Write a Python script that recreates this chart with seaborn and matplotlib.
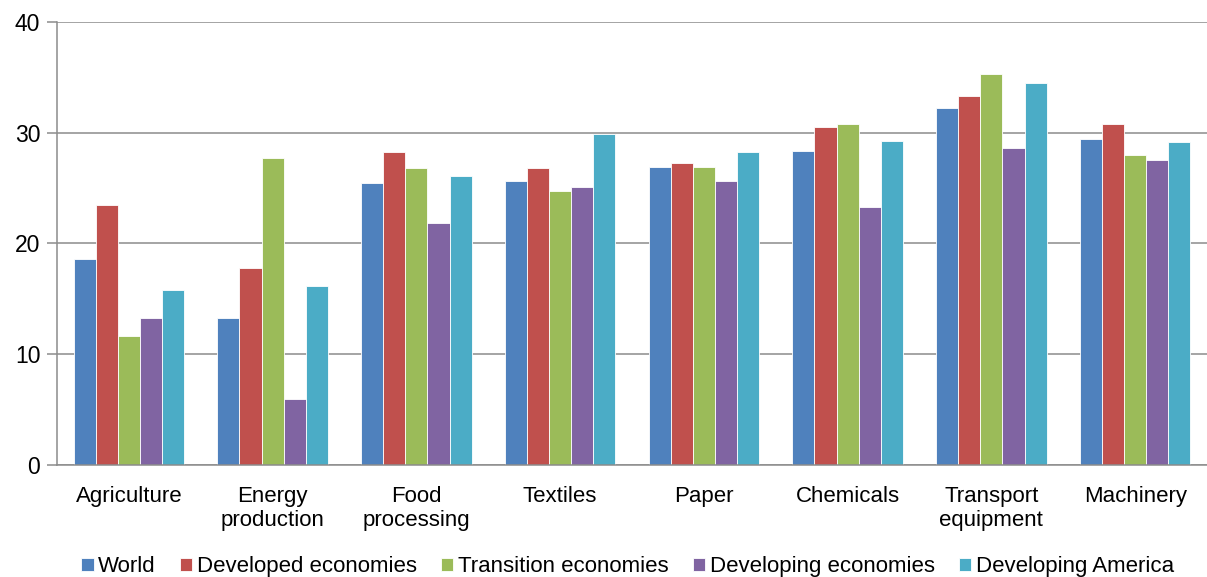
import numpy as np
import pandas as pd
import seaborn as sns
import matplotlib.pyplot as plt

# Data
categories = ["Agriculture", "Energy\nproduction", "Food\nprocessing", "Textiles",
              "Paper", "Chemicals", "Transport\nequipment", "Machinery"]
series = ["World", "Developed economies", "Transition economies",
          "Developing economies", "Developing America"]
world = [18.6, 13.3, 25.5, 25.6, 26.9, 28.35, 32.2, 29.4]
developed = [23.5, 17.8, 28.3, 26.8, 27.3, 30.5, 33.3, 30.8]
transition = [11.65, 27.7, 26.8, 24.75, 26.9, 30.8, 35.3, 28.0]
developing = [13.3, 6.0, 21.85, 25.1, 25.6, 23.3, 28.6, 27.5]
america = [15.8, 16.2, 26.1, 29.9, 28.3, 29.3, 34.5, 29.2]
colors = ["#4F81BD", "#C0504D", "#9BBB59", "#8064A2", "#4BACC6"]

rows = []
for name, vals in zip(series, [world, developed, transition, developing, america]):
    for cat, v in zip(categories, vals):
        rows.append({"category": cat, "series": name, "value": v})
df = pd.DataFrame(rows)

sns.set_style("white")
plt.rcParams["font.family"] = ["Liberation Sans", "DejaVu Sans"]
plt.rcParams["text.color"] = "black"
plt.rcParams["xtick.color"] = "black"
plt.rcParams["ytick.color"] = "black"

fig = plt.figure(figsize=(12.07, 5.77), dpi=100)
ax = fig.add_axes([57 / 1207, 1 - 465 / 577, 1 - 57 / 1207, (465 - 22) / 577])

sns.barplot(data=df, x="category", y="value", hue="series", order=categories,
            hue_order=series, palette=colors, saturation=1, width=0.77, gap=0,
            edgecolor="white", linewidth=0.6, ax=ax, legend=True)

ax.set_xlim(-0.5, 7.5)
ax.set_ylim(0, 40)
ax.set_yticks([0, 10, 20, 30, 40])
ax.yaxis.grid(True, color="#8c8c8c", linewidth=1.1)
ax.set_axisbelow(True)
ax.set_xlabel("")
ax.set_ylabel("")

for s in ["top", "right"]:
    ax.spines[s].set_visible(False)
for s in ["left", "bottom"]:
    ax.spines[s].set_color("#8c8c8c")
    ax.spines[s].set_linewidth(1.1)

ax.tick_params(axis="x", which="major", length=0, pad=15, labelsize=16)
ax.set_xticks(np.arange(-0.5, 8, 1), minor=True)
ax.tick_params(axis="x", which="minor", length=6, color="#8c8c8c", width=1.1)
ax.tick_params(axis="y", length=7, color="#8c8c8c", width=1.1, labelsize=16.5, pad=5,
               left=True, labelcolor="black")
for lbl in ax.get_xticklabels():
    lbl.set_linespacing(1.2)
    lbl.set_verticalalignment("top")

handles, labels = ax.get_legend_handles_labels()
ax.get_legend().remove()
fig.legend(handles, labels, loc="lower center", bbox_to_anchor=(0.52, -0.035), ncol=5,
           frameon=False, fontsize=16, handlelength=0.55, handleheight=0.55,
           handletextpad=0.2, columnspacing=1.1)

fig.savefig("out.png", dpi=100)
